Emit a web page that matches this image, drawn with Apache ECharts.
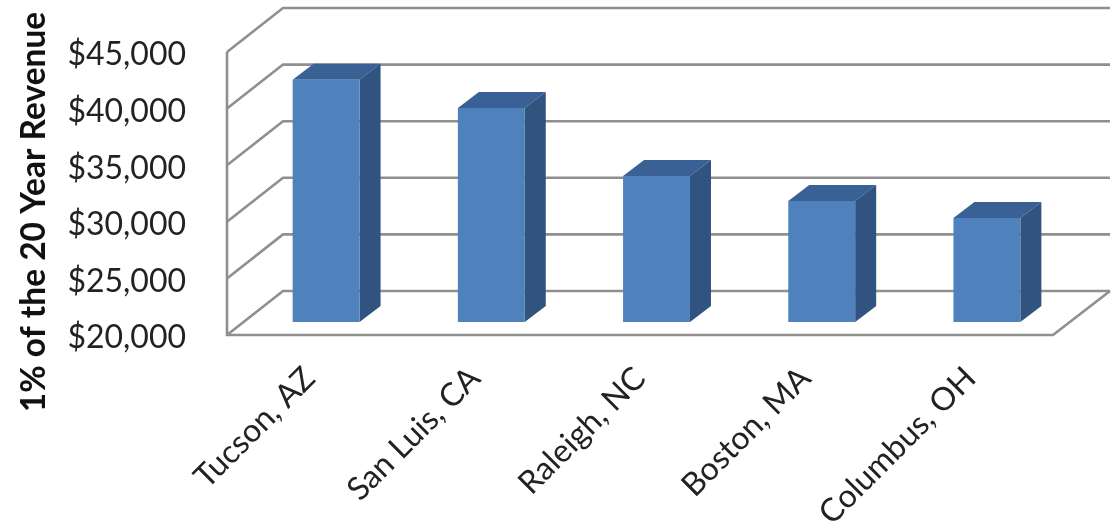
<!DOCTYPE html>
<html><head><meta charset="utf-8">
<style>html,body{margin:0;padding:0;background:#fff}#c{width:1113px;height:523px}</style>
<script src="https://cdn.jsdelivr.net/npm/echarts@6/dist/echarts.min.js"></script>
</head><body><div id="c"></div>
<script>
const categories = ['Tucson, AZ','San Luis, CA','Raleigh, NC','Boston, MA','Columbus, OH'];
const revenue = [41400,38900,32900,30700,29200];
const yTicks = [20000,25000,30000,35000,40000,45000];
const yTitle = '1% of the 20 Year Revenue';

const DX = 56, DY = 44;            // depth of the 3D box
const BAR_T = 0.295;               // how far into the box the bar front sits
const BAR_DX = 21, BAR_DY = 16;    // bar depth
const BAR_W = 0.405;               // bar width as share of band
const GRID = '#8f8f8f';

const chart = echarts.init(document.getElementById('c'), null, {renderer:'canvas'});
function renderWall(params, api){
  const cs = params.coordSys;
  const tick = api.value(1);
  const y = api.coord([0, tick])[1];
  const x0 = cs.x, x1 = cs.x + cs.width;
  const children = [{
    type:'polyline', silent:true,
    shape:{points:[[x0,y],[x0+DX,y-DY],[x1+DX+1,y-DY]]},
    style:{stroke:GRID, lineWidth:2.6, fill:null}
  }];
  if (tick === yTicks[0]) {
    children.push({
      type:'polyline', silent:true,
      shape:{points:[[x0,cs.y],[x0,y],[x1,y],[x1+DX+1,y-DY]]},
      style:{stroke:GRID, lineWidth:2.6, fill:null}
    });
  }
  return {type:'group', children};
}
function renderBar(params, api){
  const top = api.coord([api.value(0), api.value(1)]);
  const base = api.coord([api.value(0), yTicks[0]]);
  const band = api.size([1,0])[0];
  const w = band * BAR_W;
  const ox = DX * BAR_T, oy = DY * BAR_T;
  const l = top[0] - w/2 + ox, r = l + w;
  const t = top[1] - oy, b = base[1] - oy;
  return {type:'group', children:[
    {type:'polygon', shape:{points:[[l,t],[r,t],[r+BAR_DX,t-BAR_DY],[l+BAR_DX,t-BAR_DY]]}, style:{fill:'#3a6195'}},
    {type:'polygon', shape:{points:[[r,t],[r+BAR_DX,t-BAR_DY],[r+BAR_DX,b-BAR_DY],[r,b]]}, style:{fill:'#30537f'}},
    {type:'rect', shape:{x:l,y:t,width:w,height:b-t}, style:{fill:'#4f81bd'}}
  ]};
}
chart.setOption({
  animation:false,
  backgroundColor:'#fff',
  grid:{left:227, top:52, width:826, height:283, containLabel:false, outerBoundsMode:'none'},
  xAxis:{type:'category', data:categories, axisLine:{show:false}, axisTick:{show:false}, splitLine:{show:false},
    axisLabel:{rotate:45, interval:0, margin:38, fontFamily:'Lato', fontSize:32, color:'#222'}},
  yAxis:{type:'value', min:20000, max:45000, interval:5000,
    name:yTitle, nameLocation:'middle', nameGap:176, nameRotate:90,
    nameTextStyle:{fontFamily:'Lato', fontWeight:'bold', fontSize:33.5, color:'#111', padding:[0,37,0,0]},
    axisLine:{show:false}, axisTick:{show:false}, splitLine:{show:false},
    axisLabel:{margin:41, fontFamily:'Lato', fontSize:32, color:'#222',
      rich:{v:{fontFamily:'Lato', fontSize:32, color:'#222', padding:[6,0,0,0]}},
      formatter:v=>'{v|$'+v.toLocaleString('en-US')+'}'}},
  series:[
    {type:'custom', name:'walls', renderItem:renderWall, data:yTicks.map(v=>[0,v]), silent:true, z:1, encode:{x:0,y:1}},
    {type:'custom', name:'1% of the 20 Year Revenue', renderItem:renderBar, data:revenue.map((v,i)=>[i,v]), z:2, encode:{x:0,y:1}}
  ]
});
</script></body></html>
